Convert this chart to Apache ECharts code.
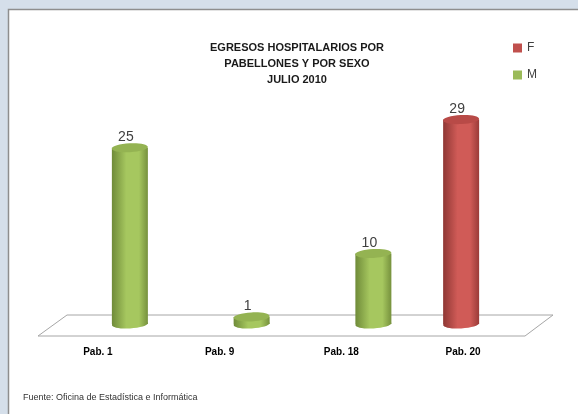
<!DOCTYPE html>
<html>
<head>
<meta charset="utf-8">
<script src="https://cdn.jsdelivr.net/npm/echarts@6/dist/echarts.min.js"></script>
<style>
  html, body { margin: 0; padding: 0; }
  #chart { width: 578px; height: 414px; }
</style>
</head>
<body>
<div id="chart"></div>
<script>
// datos del gráfico
const categories = ['Pab. 1', 'Pab. 9', 'Pab. 18', 'Pab. 20'];
const femaleValues = [null, null, null, 29];
const maleValues = [25, 1, 10, null];

const toData = (arr) => arr.map((v, i) => (v == null ? null : [i, v])).filter(d => d);

// cilindro dibujado con la escala del eje
const cylinder = (dx, dark, light, edge, top) => (params, api) => {
  const val = api.value(1);
  const p = api.coord([api.value(0), val]);
  const p0 = api.coord([api.value(0), 0]);
  const cx = p[0] + dx;
  const r = 18, ry = 4.5;
  const grad = new echarts.graphic.LinearGradient(0, 0, 1, 0, [
    { offset: 0, color: dark },
    { offset: 0.4, color: light },
    { offset: 0.75, color: light },
    { offset: 1, color: edge }
  ]);
  return {
    type: 'group',
    children: [
      { type: 'ellipse', shape: { cx: cx, cy: p0[1], rx: r, ry: ry }, rotation: 0.05, originX: cx, originY: p0[1], style: { fill: grad } },
      { type: 'rect', shape: { x: cx - r, y: p[1], width: 2 * r, height: p0[1] - p[1] }, style: { fill: grad } },
      { type: 'ellipse', shape: { cx: cx, cy: p[1], rx: r, ry: ry }, rotation: 0.05, originX: cx, originY: p[1], style: { fill: top } },
      { type: 'text', style: { text: String(val), x: cx - 4, y: p[1] - ry + 1, align: 'center', verticalAlign: 'bottom', fill: '#404040', font: '14px "Liberation Sans"' } }
    ]
  };
};

const chart = echarts.init(document.getElementById('chart'));
chart.setOption({
  backgroundColor: '#d5dfea',
  animation: false,
  graphic: [
    { type: 'rect', z: -10, shape: { x: 8.5, y: 9.5, width: 600, height: 500 }, style: { fill: '#ffffff', stroke: '#8e8e8e', lineWidth: 1.5 } },
    { type: 'polygon', z: -5, shape: { points: [[38, 336], [67, 315], [553, 315], [525, 336]] }, style: { fill: '#ffffff', stroke: '#a6a6a6', lineWidth: 1 } }
  ],
  title: [
    {
      text: 'EGRESOS HOSPITALARIOS POR\nPABELLONES Y POR SEXO\nJULIO 2010',
      left: 292, top: 35, textAlign: 'center',
      textStyle: { fontFamily: 'Liberation Sans', fontSize: 11, fontWeight: 'bold', lineHeight: 16, color: '#1a1a1a' }
    },
    {
      text: 'Fuente: Oficina de Estadística e Informática',
      left: 18, top: 388,
      textStyle: { fontFamily: 'Liberation Sans', fontSize: 9, fontWeight: 'normal', color: '#333333' }
    }
  ],
  legend: {
    orient: 'vertical', left: 508, top: 36, itemGap: 13,
    itemWidth: 9, itemHeight: 9, icon: 'rect',
    textStyle: { fontFamily: 'Liberation Sans', fontSize: 12, color: '#404040', lineHeight: 14 },
    data: ['F', 'M']
  },
  grid: { left: 37, right: 54, top: 112.5, bottom: 90 },
  xAxis: {
    type: 'category', data: categories,
    axisLine: { show: false }, axisTick: { show: false },
    axisLabel: { margin: 23, fontFamily: 'Liberation Sans', fontSize: 10, fontWeight: 'bold', color: '#000' }
  },
  yAxis: { type: 'value', min: 0, max: 30, show: false },
  series: [
    {
      name: 'F', type: 'custom', itemStyle: { color: '#c0504d' },
      renderItem: cylinder(-2, '#8f3734', '#d05b57', '#9a3b38', '#b84a47'),
      data: toData(femaleValues)
    },
    {
      name: 'M', type: 'custom', itemStyle: { color: '#9bbb59' },
      renderItem: cylinder(32, '#6f8b39', '#a6c75f', '#76913d', '#94b352'),
      data: toData(maleValues)
    }
  ]
});
</script>
</body>
</html>
